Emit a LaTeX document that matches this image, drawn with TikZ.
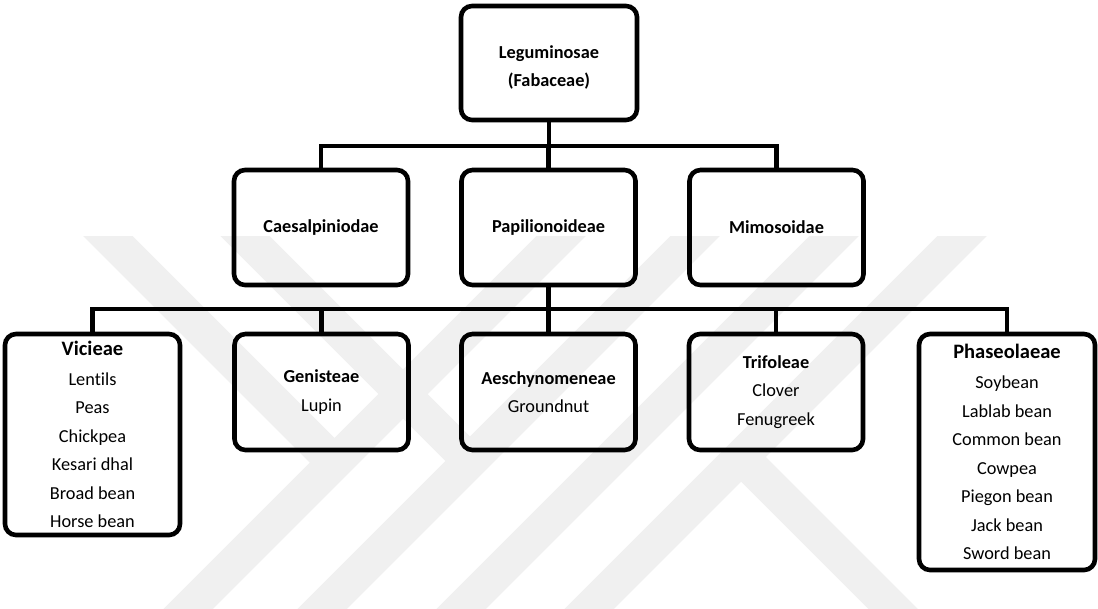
\documentclass[tikz,border=0pt]{standalone}
\usepackage{fontspec}
\setmainfont{Carlito}[Ligatures=NoCommon]
\definecolor{wm}{RGB}{240,240,240}
\begin{document}
\begin{tikzpicture}[x=1pt,y=-1pt,
  box/.style={draw=black,line width=4.6pt,rounded corners=11pt,minimum width=174pt,
    inner sep=0pt,align=center,font=\fontsize{18.3}{28.5}\selectfont},
  boldbox/.style={box,font=\fontsize{18.3}{28}\selectfont\bfseries},
  conn/.style={draw=black,line width=4.6pt},
  wmark/.style={draw=wm,line width=35pt}]
\useasboundingbox (0,0) rectangle (1098,608);
% faint watermark
\begin{scope}
  \clip (0,236) rectangle (1098,608);
  \draw[wmark] (147,650) -- (597,200);
  \draw[wmark] (72,200) -- (334.5,462.5);
  \draw[wmark] (281,650) -- (731,200);
  \draw[wmark] (209,200) -- (470,461);
  \draw[wmark] (420,650) -- (870,200);
  \draw[wmark] (548,650) -- (998,200);
  \draw[wmark] (741,457) -- (934,650);
\end{scope}
% boxes
\node[boldbox,minimum width=176pt,minimum height=114pt] (leg) at (549,63) {\rule{0pt}{21pt}Leguminosae\\(Fabaceae)};
\node[boldbox,minimum height=115pt] (caes) at (321,227.5) {Caesalpiniodae};
\node[boldbox,minimum height=115pt] (papi) at (548.5,227.5) {Papilionoideae};
\node[boldbox,minimum height=115pt] (mimo) at (776.5,227.5) {Mimosoidae};
\node[box,minimum width=175pt,minimum height=201pt] (vic) at (92.5,434.5)
  {{\fontsize{20.5}{28.5}\selectfont\bfseries Vicieae}\\[1.5pt]Lentils\\Peas\\Chickpea\\Kesari dhal\\Broad bean\\Horse bean};
\node[box,minimum height=116pt] (gen) at (321.5,392) {{\bfseries Genisteae}\\Lupin};
\node[box,minimum height=116pt] (aes) at (548.5,392) {{\bfseries Aeschynomeneae}\\Groundnut};
\node[box,minimum height=116pt] (tri) at (776,392) {{\bfseries Trifoleae}\\Clover\\Fenugreek};
\node[box,minimum width=176pt,minimum height=236pt] (phas) at (1007,452)
  {{\fontsize{20.5}{28.5}\selectfont\bfseries Phaseolaeae}\\[1.5pt]Soybean\\Lablab bean\\Common bean\\Cowpea\\Piegon bean\\Jack bean\\Sword bean};
% connectors
\coordinate (bus1) at (549,146);
\coordinate (bus2) at (548.5,309);
\draw[conn] (leg.south) -- (leg.south |- bus1);
\draw[conn] (caes.north) -- (caes.north |- bus1) -- (mimo.north |- bus1) -- (mimo.north);
\draw[conn] (papi.north) -- (papi.north |- bus1);
\draw[conn] (papi.south) -- (papi.south |- bus2);
\draw[conn] (vic.north) -- (vic.north |- bus2) -- (phas.north |- bus2) -- (phas.north);
\draw[conn] (gen.north) -- (gen.north |- bus2);
\draw[conn] (aes.north) -- (aes.north |- bus2);
\draw[conn] (tri.north) -- (tri.north |- bus2);
\end{tikzpicture}
\end{document}
